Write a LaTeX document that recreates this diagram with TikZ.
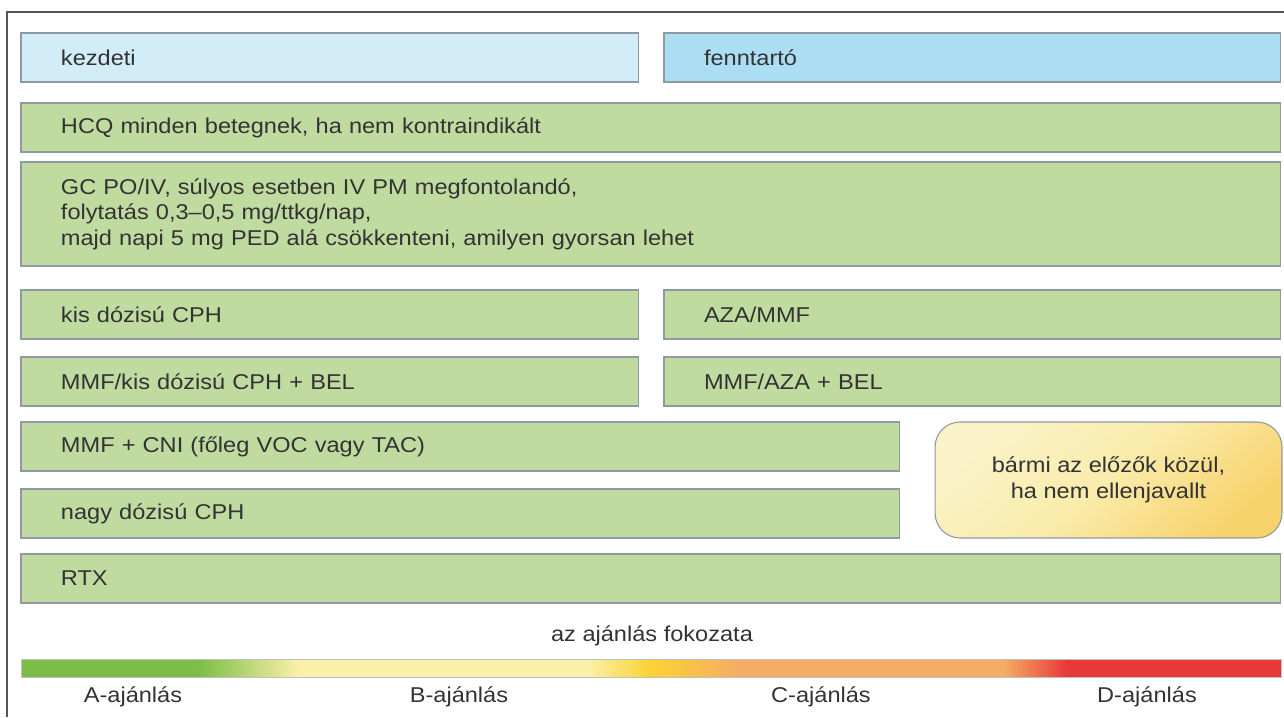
\documentclass[tikz,border=0pt]{standalone}
\usepackage{fontspec}
\setmainfont{Liberation Sans}[FakeStretch=1.1]
\usepackage{xcolor}
\usepackage{tikz}
\definecolor{txt}{HTML}{333333}
\definecolor{frameline}{HTML}{555555}
\definecolor{boxline}{HTML}{8E9AA2}
\definecolor{barfill}{HTML}{C0DBA0}
\definecolor{initfill}{HTML}{D2ECF8}
\definecolor{maintfill}{HTML}{ABDDF3}
\definecolor{anylight}{HTML}{FAF3C8}
\definecolor{anymid}{HTML}{F9EBAA}
\definecolor{anydark}{HTML}{F8D36C}
\definecolor{gradeA}{HTML}{7DBC46}
\definecolor{gradeB}{HTML}{FAF0A8}
\definecolor{gradeC}{HTML}{FBD232}
\definecolor{gradeD}{HTML}{F5AC64}
\definecolor{gradeE}{HTML}{E8393A}
\pgfdeclarehorizontalshading{grade}{100bp}{color(0bp)=(gradeA); color(32bp)=(gradeA);
  color(36bp)=(gradeB); color(47.5bp)=(gradeB); color(50bp)=(gradeC); color(53.5bp)=(gradeD);
  color(64bp)=(gradeD); color(66.5bp)=(gradeE); color(100bp)=(gradeE)}
\tikzset{
    bar/.style={draw=boxline, fill=barfill, line width=0.6pt, anchor=north west,
      inner xsep=0.8cm, inner ysep=0pt, outer sep=0pt, minimum height=0.98cm, align=left},
    wide/.style={text width=23.6cm},
    half/.style={text width=10.76cm},
    halfr/.style={text width=10.74cm},
    most/.style={text width=15.98cm},
    anybox/.style={draw=boxline, line width=0.6pt, rounded corners=0.5cm,
      minimum width=6.94cm, minimum height=2.32cm, align=center,
      top color=anylight, bottom color=anydark, middle color=anymid, shading angle=40},
    gradebar/.style={shade, shading=grade, draw=boxline!60, line width=0.4pt,
      minimum width=25.2cm, minimum height=0.36cm, inner sep=0pt}}

\begin{document}
\begin{tikzpicture}[x=0.02cm, y=-0.02cm,
    every node/.style={font=\fontsize{12.2}{14.5}\selectfont, text=txt}]
  \useasboundingbox (0, 0) rectangle (1284, 717);
  \draw[frameline, line width=0.6pt] (7, 717) -- (7, 12) -- (1284, 12);
  % phases
  \node[bar, half, fill=initfill] at (21, 33) (init) {kezdeti};
  \node[bar, halfr, fill=maintfill] at (664, 33) (maint) {fenntartó};
  % treatment rows
  \node[bar, wide] at (21, 103) (hcq) {HCQ minden betegnek, ha nem kontraindikált};
  \node[bar, wide, minimum height=2.08cm] at (21, 162) (gc) {GC PO/IV, súlyos esetben IV PM megfontolandó,\\
    folytatás 0,3–0,5 mg/ttkg/nap,\\
    majd napi 5 mg PED alá csökkenteni, amilyen gyorsan lehet};
  \node[bar, half] at (21, 290) (cphlow) {kis dózisú CPH};
  \node[bar, halfr] at (664, 290) (aza) {AZA/MMF};
  \node[bar, half] at (21, 357) (mmfbel) {MMF/kis dózisú CPH + BEL};
  \node[bar, halfr] at (664, 357) (azabel) {MMF/AZA + BEL};
  \node[bar, most] at (21, 422) (cni) {MMF + CNI (főleg VOC vagy TAC)};
  \node[bar, most] at (21, 489) (cphhigh) {nagy dózisú CPH};
  \node[bar, wide] at (21, 554) (rtx) {RTX};
  \node[anybox] at (1108.5, 480) (any) {bármi az előzők közül,\\ha nem ellenjavallt};
  % grade scale
  \node at (652, 636) (title) {az ajánlás fokozata};
  \node[gradebar] at (651, 668) (scale) {};
  \node at (133, 697) (recA) {A-ajánlás};
  \node at (459, 697) (recB) {B-ajánlás};
  \node at (821, 697) (recC) {C-ajánlás};
  \node at (1147, 697) (recD) {D-ajánlás};
\end{tikzpicture}
\end{document}
